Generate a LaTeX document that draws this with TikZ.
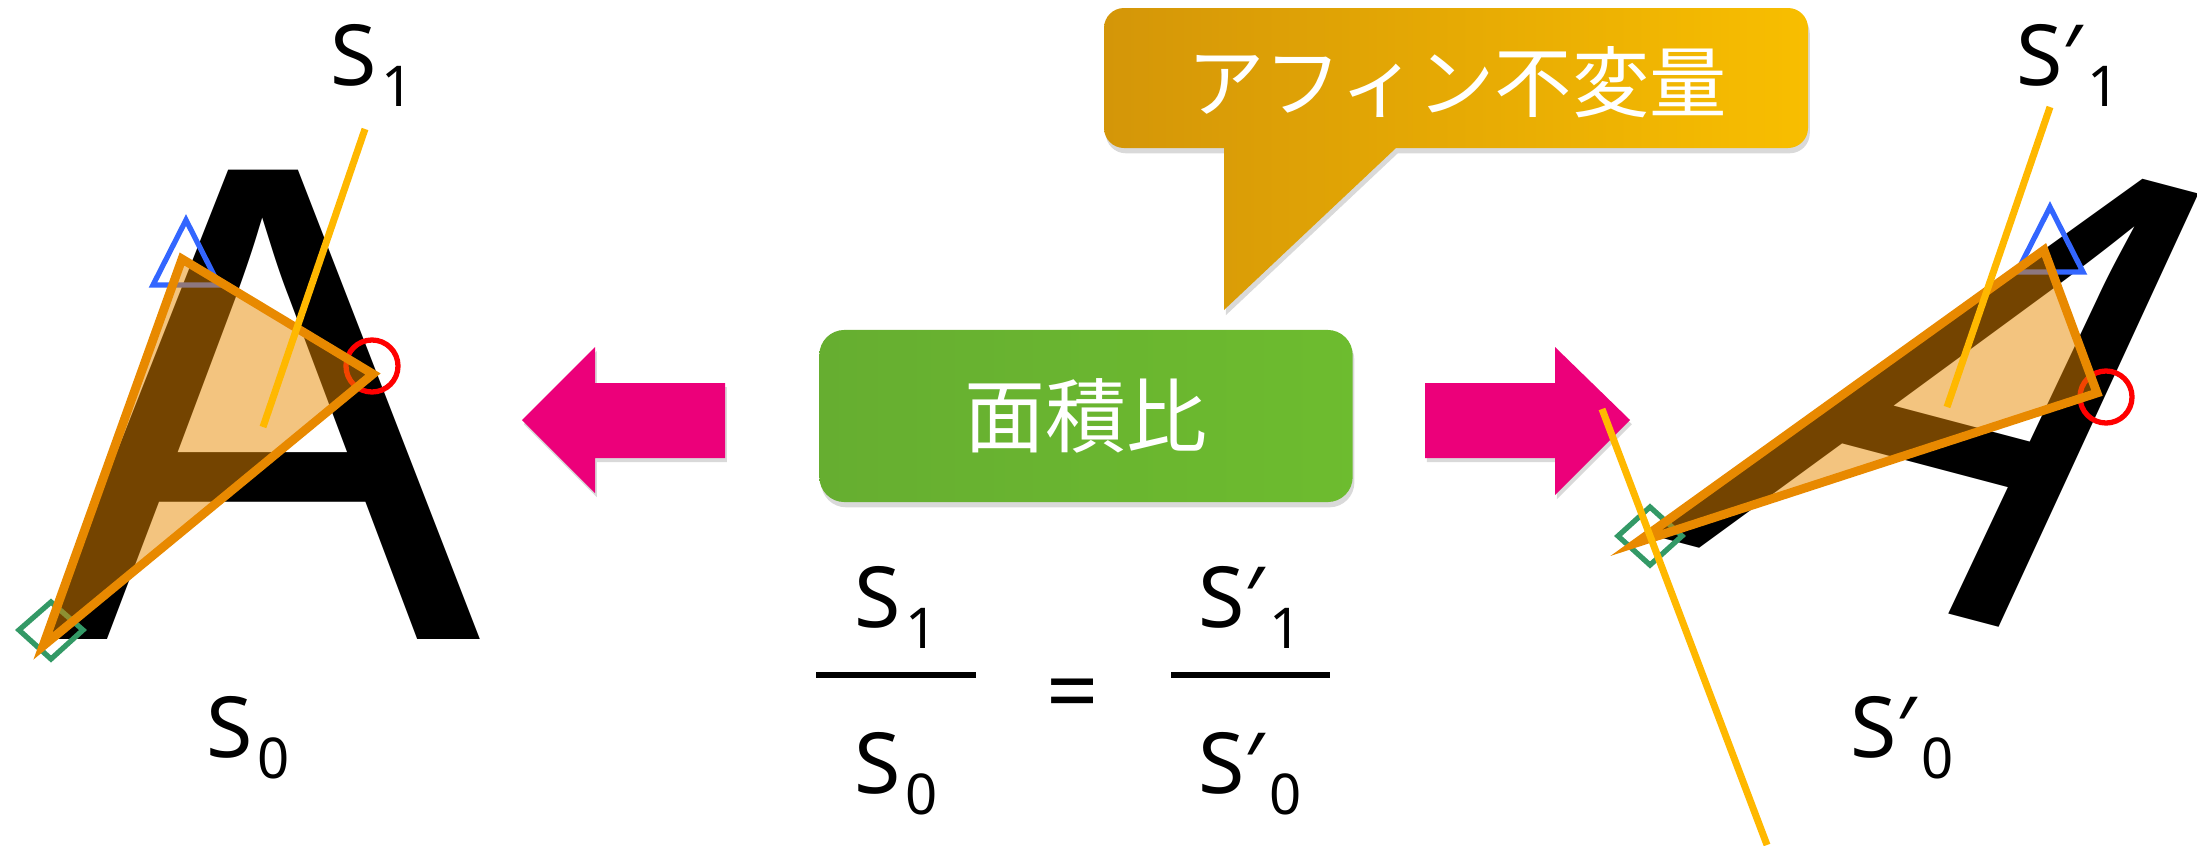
\documentclass[tikz,border=0pt]{standalone}
\usepackage{fontspec}
\setmainfont{Noto Sans}
\newfontfamily\jpfont{Noto Sans CJK JP}
\newfontfamily\glyphfont[FakeStretch=0.965]{Liberation Sans}
\usetikzlibrary{shadows}

\definecolor{arrowpink}{RGB}{236,0,122}
\definecolor{ratiolight}{RGB}{126,220,45}
\definecolor{ratiodark}{RGB}{102,174,48}
\definecolor{calloutdark}{RGB}{212,150,8}
\definecolor{calloutlight}{RGB}{248,190,0}
\definecolor{triorange}{RGB}{232,137,0}
\definecolor{leaderyellow}{RGB}{255,184,0}
\definecolor{markblue}{RGB}{51,102,255}
\definecolor{markred}{RGB}{255,0,0}
\definecolor{markgreen}{RGB}{51,153,102}

\newcommand\lowidx[1]{\kern1.5pt\raisebox{-6pt}{\fontsize{16pt}{16pt}\selectfont #1}}

\begin{document}
\begin{tikzpicture}[
  x=0.01cm, y=-0.01cm,
  glyph/.style={font=\glyphfont\fontsize{194pt}{196pt}\selectfont, inner sep=0pt, outer sep=0pt, anchor=base west},
  area/.style={draw=triorange, fill=triorange, fill opacity=0.5, line width=2.5pt, line join=miter},
  bluemark/.style={draw=markblue, line width=1.5pt, line join=miter},
  redmark/.style={circle, draw=markred, line width=1.5pt, minimum size=0.52cm, inner sep=0pt},
  greenmark/.style={draw=markgreen, line width=1.5pt, line join=miter},
  leader/.style={draw=leaderyellow, line width=2pt},
  bigarrow/.style={fill=arrowpink, drop shadow={opacity=0.3, shadow xshift=0.5pt, shadow yshift=-1.2pt}},
  callout/.style={left color=calloutdark, right color=calloutlight, drop shadow={opacity=0.3, shadow xshift=0.5pt, shadow yshift=-1.5pt}},
  areabox/.style={rectangle, rounded corners=0.25cm, minimum width=5.33cm, minimum height=1.72cm,
    left color=ratiodark, middle color=ratiolight, right color=ratiodark!70!ratiolight,
    drop shadow={opacity=0.3, shadow xshift=0.5pt, shadow yshift=-1.5pt},
    text=white, font=\jpfont\fontsize{23pt}{25pt}\selectfont},
  lbl/.style={font=\fontsize{24pt}{26pt}\selectfont, inner sep=0pt, anchor=base},
  fracbar/.style={line width=1.7pt}
]
\useasboundingbox (0,0) rectangle (2197,845);

% callout and ratio box
\path[callout] (1224,148) -- (1224,310) -- (1396,148) [rounded corners=0.2cm] -- (1808,148) -- (1808,8) -- (1104,8) -- (1104,148) [sharp corners] -- cycle;
\node[text=white, font=\jpfont\fontsize{22pt}{24pt}\selectfont, inner sep=0pt] (invariant) at (1457,82) {アフィン不変量};
\node[areabox] (ratio) at (1086,416) {面積比};

% arrows
\path[bigarrow] (522,420) -- (595,347) -- (595,383) -- (725,383) -- (725,458) -- (595,458) -- (595,493) -- cycle;
\path[bigarrow] (1630,420) -- (1555,347) -- (1555,383) -- (1425,383) -- (1425,458) -- (1555,458) -- (1555,495) -- cycle;

% original A
\node[glyph] (Aorig) at (42,639) {A};
\draw[bluemark] (186,220) -- (219,285) -- (153,285) -- cycle;
\node[redmark] (corner0) at (372,366) {};
\draw[greenmark] (51,602) -- (83,630) -- (51,659) -- (19,630) -- cycle;
\filldraw[area] (182,259) -- (373,374) -- (43,646) -- cycle;
\coordinate (lead0a) at (365,129);
\coordinate (lead0b) at (263,427);
\draw[leader] (lead0a) -- (lead0b);

% transformed A
\begin{scope}[cm={0.803,-0.212,0.737,0.841,(20.833cm,0.122cm)}]
\node[glyph, transform shape] (Aimg) at (42,639) {A};
\end{scope}
\draw[bluemark] (2050,207) -- (2083,272) -- (2017,272) -- cycle;
\node[redmark] (corner1) at (2106,397) {};
\draw[greenmark] (1650,507) -- (1682,536) -- (1650,565) -- (1618,536) -- cycle;
\filldraw[area] (2044,250) -- (2097,393) -- (1636,543) -- cycle;
\coordinate (lead1a) at (2050,107);
\coordinate (lead1b) at (1947,407);
\coordinate (lead2a) at (1602,409);
\coordinate (lead2b) at (1767,845);
\draw[leader] (lead1a) -- (lead1b);
\draw[leader] (lead2a) -- (lead2b);

% labels
\node[lbl] (s1) at (372,85) {S\lowidx{1}};
\node[lbl] (s0) at (248,757) {S\lowidx{0}};
\node[lbl] (s1p) at (2068,85) {S′\lowidx{1}};
\node[lbl] (s0p) at (1902,757) {S′\lowidx{0}};

% ratio equation
\node[lbl] (num0) at (896,627) {S\lowidx{1}};
\node[lbl] (den0) at (896,793) {S\lowidx{0}};
\draw[fracbar] (816,675) -- (976,675);
\node[lbl, font=\fontsize{26pt}{28pt}\selectfont] (eq) at (1073,723) {=};
\node[lbl] (num1) at (1250,627) {S′\lowidx{1}};
\node[lbl] (den1) at (1250,793) {S′\lowidx{0}};
\draw[fracbar] (1171,675) -- (1330,675);
\end{tikzpicture}
\end{document}
